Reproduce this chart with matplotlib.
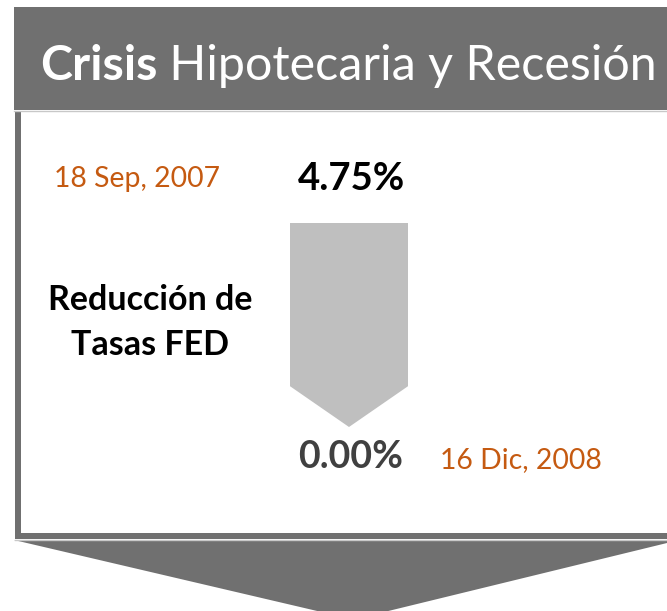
"""
Infografia: Crisis Hipotecaria y Recesion -- reduccion de tasas de la FED.
"""
import matplotlib
matplotlib.use("Agg")
import matplotlib.pyplot as plt
from matplotlib.patches import Polygon, Rectangle

# --- datos ---
title_bold = "Crisis"
title_rest = " Hipotecaria y Recesión"
label = "Reducción de\nTasas FED"
rates = [4.75, 0.00]                       # tasa FED inicio / fin (%)
dates = ["18 Sep, 2007", "16 Dic, 2008"]

# --- estilo ---
FONT = "Lato"
BAR_GRAY = "#707070"
ARROW_GRAY = "#BFBFBF"
ORANGE = "#C55A11"
W, H = 667, 611

fig = plt.figure(figsize=(W / 100, H / 100), dpi=100)
ax = fig.add_axes([0, 0, 1, 1])
ax.set_xlim(0, W)
ax.set_ylim(H, 0)
ax.axis("off")

# barra de titulo
ax.add_patch(Rectangle((14, 7), W, 103, color=BAR_GRAY, lw=0))
ax.plot([14, W], [110.5, 110.5], color="#C8C8C8", lw=1)
# panel blanco con borde gris (izq. y abajo)
ax.add_patch(Rectangle((15, 111), 6, 428, color=BAR_GRAY, lw=0))
ax.add_patch(Rectangle((15, 533), W, 6, color=BAR_GRAY, lw=0))
ax.plot([15, W], [539.5, 539.5], color="#C8C8C8", lw=1)
# flecha grande inferior (recortada por el borde)
ax.add_patch(Polygon([(14, 540), (W, 540), (W, 543), (376, 614), (330, 614)],
                     closed=True, color=BAR_GRAY, lw=0))

# titulo: parte en negrita + resto normal, ajustado al ancho 40..657 px
fig.canvas.draw()
renderer = fig.canvas.get_renderer()
size = 37
t1 = ax.text(40, 80, title_bold, color="white", fontsize=size,
             fontweight="bold", family=FONT, va="baseline", ha="left")
t2 = ax.text(0, 80, title_rest, color="white", fontsize=size, family=FONT,
             va="baseline", ha="left")
w_total = (t1.get_window_extent(renderer).width
           + t2.get_window_extent(renderer).width)
size = size * 617 / w_total
t1.set_fontsize(size)
t2.set_fontsize(size)
bb = t1.get_window_extent(renderer)
x_end = ax.transData.inverted().transform((bb.x1, bb.y0))[0]
t2.set_x(x_end)

# fechas y tasas
ax.text(137, 187, dates[0], color=ORANGE, fontsize=20.4, family=FONT,
        ha="center", va="baseline")
ax.text(521, 468, dates[1], color=ORANGE, fontsize=20.4, family=FONT,
        ha="center", va="baseline")
ax.text(351, 190, f"{rates[0]:.2f}%", color="black", fontsize=27.6,
        fontweight="bold", family=FONT, ha="center", va="baseline")
ax.text(351, 468, f"{rates[1]:.2f}%", color="#404040", fontsize=27,
        fontweight="bold", family=FONT, ha="center", va="baseline")

# etiqueta
lines = label.split("\n")
ax.text(150, 310, lines[0], color="black", fontsize=24.5,
        fontweight="bold", family=FONT, ha="center", va="baseline")
ax.text(150, 355, lines[1], color="black", fontsize=24.5,
        fontweight="bold", family=FONT, ha="center", va="baseline")

# flecha de reduccion: eje y en % de tasa
ax_arrow = fig.add_axes([290 / W, 1 - 427 / H, 118 / W, 204 / H])
ax_arrow.set_xlim(0, 1)
ax_arrow.set_ylim(min(rates), max(rates))
ax_arrow.axis("off")
span = rates[0] - rates[1]
shoulder = rates[1] + 0.2 * span
ax_arrow.add_patch(Polygon([(0, rates[0]), (1, rates[0]), (1, shoulder),
                            (0.5, rates[1]), (0, shoulder)],
                           closed=True, color=ARROW_GRAY, lw=0))

fig.savefig("out.png", dpi=100)
